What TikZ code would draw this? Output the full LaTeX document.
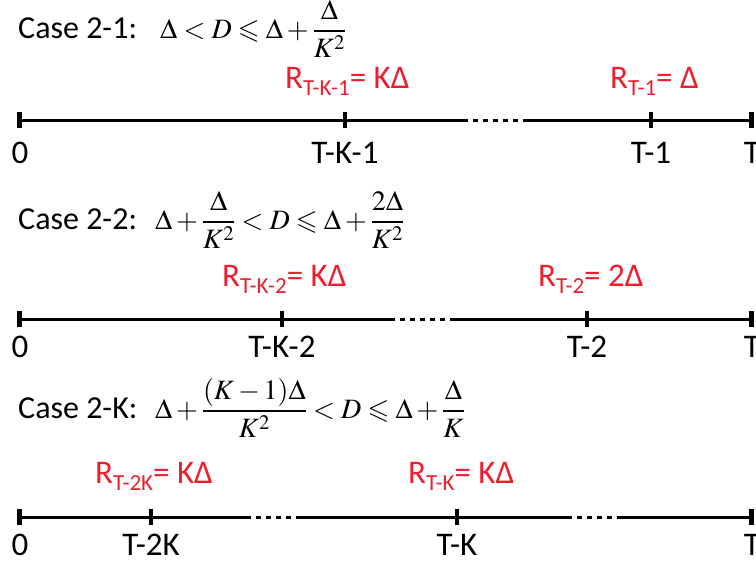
\documentclass[tikz,border=0pt]{standalone}
\usepackage{mathptmx}
\usepackage{amssymb}
\usepackage{fontspec}
\setmainfont{Carlito}
\definecolor{lred}{RGB}{240,30,45}
\newcommand{\lowsub}[1]{\raisebox{-0.45ex}{\fontsize{23}{23}\selectfont #1}}
\tikzset{
  axis/.style={line width=3pt},
  dotseg/.style={line width=3pt,dash pattern=on 5pt off 5pt},
  endtick/.style={line width=5pt},
  midtick/.style={line width=4pt},
  casetxt/.style={anchor=base west,inner sep=0pt,font=\fontsize{32}{38}\selectfont},
  formula/.style={anchor=base west,inner sep=0pt,font=\fontsize{28}{34}\selectfont},
  redlbl/.style={anchor=base west,inner sep=0pt,text=lred,font=\fontsize{33}{38}\selectfont},
  ticklbl/.style={anchor=base,inner sep=0pt,font=\fontsize{33}{38}\selectfont}
}
\begin{document}
\begin{tikzpicture}[x=1pt,y=-1pt]
\useasboundingbox (0,0) rectangle (756,565);
% ---------- Case 2-1 ----------
\node[casetxt] (c1) at (18,38) {Case 2-1:};
\node[formula] (f1) at (160,38) {$\displaystyle \Delta < D \leqslant \Delta + \frac{\Delta}{K^2}$};
\node[redlbl] (r1a) at (285,88) {R\lowsub{T-K-1}= KΔ};
\node[redlbl] (r1b) at (610,88) {R\lowsub{T-1}= Δ};
\coordinate (a1) at (19,120);
\coordinate (a1g) at (463,120);
\coordinate (a1h) at (526,120);
\coordinate (a1e) at (751,120);
\coordinate (t11) at (345,120);
\coordinate (t12) at (651,120);
\draw[axis] (a1) -- (a1g);
\draw[dotseg] (a1g) -- (a1h);
\draw[axis] (a1h) -- (a1e);
\draw[endtick] ([yshift=-8pt]a1) -- ([yshift=8pt]a1);
\draw[endtick] ([yshift=-8pt]a1e) -- ([yshift=8pt]a1e);
\draw[midtick] ([yshift=-8pt]t11) -- ([yshift=8pt]t11);
\draw[midtick] ([yshift=-8pt]t12) -- ([yshift=8pt]t12);
\node[ticklbl] (l10) at (20,163) {0};
\node[ticklbl] (l11) at (345,163) {T-K-1};
\node[ticklbl] (l12) at (651,163) {T-1};
\node[ticklbl] (l13) at (752,163) {T};
% ---------- Case 2-2 ----------
\node[casetxt] (c2) at (18,229) {Case 2-2:};
\node[formula] (f2) at (155,229) {$\displaystyle \Delta + \frac{\Delta}{K^2} < D \leqslant \Delta + \frac{2\Delta}{K^2}$};
\node[redlbl] (r2a) at (222,286) {R\lowsub{T-K-2}= KΔ};
\node[redlbl] (r2b) at (538,286) {R\lowsub{T-2}= 2Δ};
\coordinate (a2) at (19,319);
\coordinate (a2g) at (390,319);
\coordinate (a2h) at (454,319);
\coordinate (a2e) at (751,319);
\coordinate (t21) at (282,319);
\coordinate (t22) at (587,319);
\draw[axis] (a2) -- (a2g);
\draw[dotseg] (a2g) -- (a2h);
\draw[axis] (a2h) -- (a2e);
\draw[endtick] ([yshift=-8pt]a2) -- ([yshift=8pt]a2);
\draw[endtick] ([yshift=-8pt]a2e) -- ([yshift=8pt]a2e);
\draw[midtick] ([yshift=-8pt]t21) -- ([yshift=8pt]t21);
\draw[midtick] ([yshift=-8pt]t22) -- ([yshift=8pt]t22);
\node[ticklbl] (l20) at (20,357) {0};
\node[ticklbl] (l21) at (282,357) {T-K-2};
\node[ticklbl] (l22) at (587,357) {T-2};
\node[ticklbl] (l23) at (752,357) {T};
% ---------- Case 2-K ----------
\node[casetxt] (c3) at (18,418) {Case 2-K:};
\node[formula] (f3) at (155,418) {$\displaystyle \Delta + \frac{(K-1)\Delta}{K^2} < D \leqslant \Delta + \frac{\Delta}{K}$};
\node[redlbl] (r3a) at (95,483) {R\lowsub{T-2K}= KΔ};
\node[redlbl] (r3b) at (408,483) {R\lowsub{T-K}= KΔ};
\coordinate (a3) at (19,517);
\coordinate (a3g) at (246,517);
\coordinate (a3h) at (296,517);
\coordinate (a3i) at (567,517);
\coordinate (a3j) at (617,517);
\coordinate (a3e) at (751,517);
\coordinate (t31) at (151,517);
\coordinate (t32) at (457,517);
\draw[axis] (a3) -- (a3g);
\draw[dotseg] (a3g) -- (a3h);
\draw[axis] (a3h) -- (a3i);
\draw[dotseg] (a3i) -- (a3j);
\draw[axis] (a3j) -- (a3e);
\draw[endtick] ([yshift=-8pt]a3) -- ([yshift=8pt]a3);
\draw[endtick] ([yshift=-8pt]a3e) -- ([yshift=8pt]a3e);
\draw[midtick] ([yshift=-8pt]t31) -- ([yshift=8pt]t31);
\draw[midtick] ([yshift=-8pt]t32) -- ([yshift=8pt]t32);
\node[ticklbl] (l30) at (20,555) {0};
\node[ticklbl] (l31) at (151,555) {T-2K};
\node[ticklbl] (l32) at (457,555) {T-K};
\node[ticklbl] (l33) at (752,555) {T};
\end{tikzpicture}
\end{document}
